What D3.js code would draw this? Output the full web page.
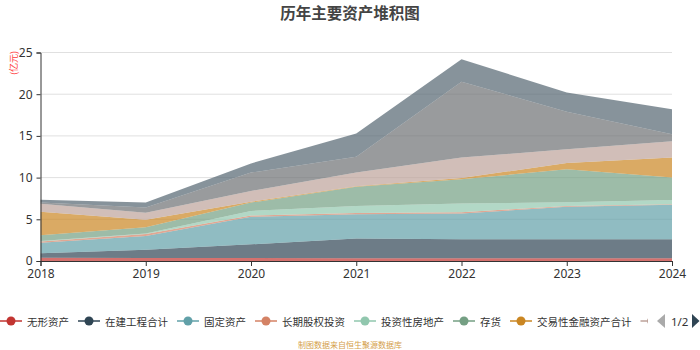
<!DOCTYPE html>
<html>
<head>
<meta charset="utf-8">
<script src="https://cdn.jsdelivr.net/npm/d3@7/dist/d3.min.js"></script>
<style>
  html, body { margin: 0; padding: 0; background: #fff; }
  svg { display: block; font-family: "Noto Sans CJK SC", "Noto Sans", sans-serif; }
</style>
</head>
<body>
<svg id="chart" width="700" height="350"></svg>
<script>
// ---- data ----
const years = ["2018", "2019", "2020", "2021", "2022", "2023", "2024"];
const seriesNames = ["无形资产", "在建工程合计", "固定资产", "长期股权投资", "投资性房地产", "存货", "交易性金融资产合计", "应收账款", "货币资金", "预付款项"];
const seriesColors = ["#c23531", "#2f4554", "#61a0a8", "#d48265", "#91c7ae", "#749f83", "#ca8622", "#bda29a", "#6e7074", "#546570"];
const wuxing    = [0.38, 0.36, 0.35, 0.32, 0.32, 0.32, 0.33];
const zaijian   = [0.55, 0.99, 1.65, 2.38, 2.28, 2.28, 2.27];
const guding    = [1.27, 1.65, 3.30, 2.90, 3.10, 3.90, 4.15];
const changqi   = [0.15, 0.25, 0.15, 0.15, 0.15, 0.10, 0.05];
const touzifang = [0.05, 0.05, 0.55, 0.85, 1.05, 0.45, 0.50];
const cunhuo    = [0.70, 0.75, 1.00, 2.30, 2.90, 3.95, 2.70];
const jiaoyi    = [2.80, 0.90, 0.10, 0.05, 0.15, 0.75, 2.40];
const yingshou  = [0.95, 0.85, 1.30, 1.65, 2.45, 1.65, 1.95];
const huobi     = [0.15, 0.60, 2.20, 1.90, 9.10, 4.50, 0.85];
const yufu      = [0.35, 0.60, 1.10, 2.80, 2.70, 2.30, 3.00];
const seriesValues = [wuxing, zaijian, guding, changqi, touzifang, cunhuo, jiaoyi, yingshou, huobi, yufu];
const yTicks = [0, 5, 10, 15, 20, 25];
const titleText = "历年主要资产堆积图";
const unitText = "(亿元)";
const sourceText = "制图数据来自恒生聚源数据库";
const pageText = "1/2";

// ---- layout ----
const svg = d3.select("#chart");
const plotLeft = 40.5, plotRight = 672, plotTop = 52.5, plotBottom = 261;

const x = d3.scalePoint().domain(years).range([plotLeft, plotRight]);
const y = d3.scaleLinear().domain([0, 25]).range([plotBottom, plotTop]);

// stacked data
const rows = years.map((yr, i) => {
  const r = { year: yr };
  seriesNames.forEach((n, k) => r[n] = seriesValues[k][i]);
  return r;
});
const stacked = d3.stack().keys(seriesNames)(rows);

// gridlines
svg.append("g").selectAll("line").data(yTicks.filter(t => t > 0)).join("line")
  .attr("x1", plotLeft).attr("x2", plotRight)
  .attr("y1", d => y(d)).attr("y2", d => y(d))
  .attr("stroke", "#e0e0e0").attr("stroke-width", 1);

// areas
const area = d3.area()
  .x(d => x(d.data.year))
  .y0(d => y(d[0]))
  .y1(d => y(d[1]));
svg.append("g").selectAll("path").data(stacked).join("path")
  .attr("d", area)
  .attr("fill", (d, i) => seriesColors[i])
  .attr("fill-opacity", 0.7);

// axes
const yAxis = d3.axisLeft(y).tickValues(yTicks).tickSize(4).tickPadding(4);
const gy = svg.append("g").attr("transform", `translate(${plotLeft},0)`).call(yAxis);
gy.select(".domain").attr("stroke", "#333");
gy.selectAll(".tick line").attr("stroke", "#333");
gy.selectAll("text").attr("fill", "#333").style("font-size", "12px")
  .style("font-family", "'Noto Sans', sans-serif");

const xAxis = d3.axisBottom(x).tickSize(5).tickPadding(3);
const gx = svg.append("g").attr("transform", `translate(0,${plotBottom})`).call(xAxis);
gx.select(".domain").attr("stroke", "#333");
gx.selectAll(".tick line").attr("stroke", "#333");
gx.selectAll("text").attr("fill", "#333").style("font-size", "12px")
  .style("font-family", "'Noto Sans', sans-serif");

// title
svg.append("text").attr("x", 350).attr("y", 12).attr("text-anchor", "middle")
  .attr("dominant-baseline", "central")
  .style("font-size", "15.5px").style("font-weight", "bold").attr("fill", "#444")
  .text(titleText);

// unit label
svg.append("text").attr("transform", "translate(13,63) rotate(-90)")
  .attr("text-anchor", "middle").attr("dominant-baseline", "central")
  .style("font-size", "9px").attr("fill", "#ff3b3b").text(unitText);

// source
svg.append("text").attr("x", 350).attr("y", 344).attr("text-anchor", "middle")
  .attr("dominant-baseline", "central")
  .style("font-size", "8px").attr("fill", "#d4a04a").text(sourceText);

// legend (page 1, clipped before the pager)
const legEdge = 648;
svg.append("clipPath").attr("id", "legclip").append("rect")
  .attr("x", -5).attr("y", 300).attr("width", legEdge + 5).attr("height", 40);
const leg = svg.append("g").attr("clip-path", "url(#legclip)");
let cx = 0;
const ly = 321;
for (let i = 0; i < seriesNames.length; i++) {
  if (cx >= legEdge) break;
  const g = leg.append("g");
  g.append("line").attr("x1", cx).attr("x2", cx + 22).attr("y1", ly).attr("y2", ly)
    .attr("stroke", seriesColors[i]).attr("stroke-width", 1.5);
  g.append("circle").attr("cx", cx + 11).attr("cy", ly).attr("r", 4.5)
    .attr("fill", seriesColors[i]);
  if (cx + 27 >= legEdge) break;
  const t = g.append("text").attr("x", cx + 27).attr("y", ly)
    .attr("dominant-baseline", "central")
    .style("font-size", "10.5px").attr("fill", "#333").text(seriesNames[i]);
  const w = t.node().getComputedTextLength();
  cx += 27 + w + 9;
}

// pager
svg.append("path").attr("d", "M665,314L665,328L657,321Z").attr("fill", "#aaa");
svg.append("text").attr("x", 671).attr("y", ly).attr("dominant-baseline", "central")
  .style("font-size", "11.5px").style("font-family", "'Noto Sans', sans-serif")
  .attr("fill", "#333").text(pageText);
svg.append("path").attr("d", "M692,314L692,328L699.5,321Z").attr("fill", "#2f4554");
</script>
</body>
</html>
